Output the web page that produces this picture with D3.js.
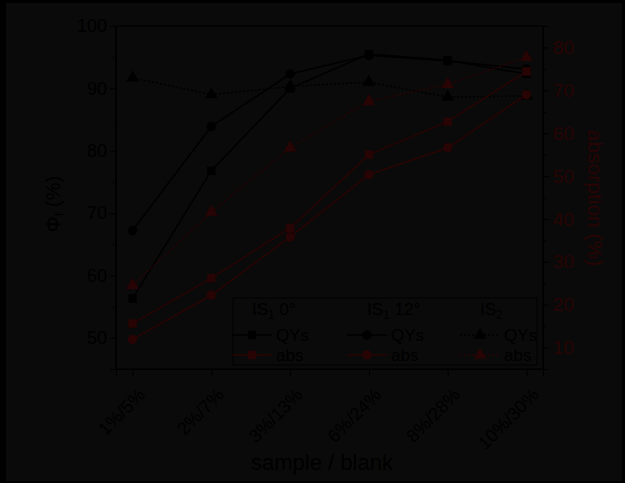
<!DOCTYPE html>
<html><head><meta charset="utf-8">
<script src="https://cdn.jsdelivr.net/npm/d3@7"></script>
<style>html,body{margin:0;padding:0;background:#000;}svg{display:block;}</style>
</head><body>
<svg id="c" width="625" height="483"></svg>
<script>
const categories = ["1%/5%","2%/7%","3%/13%","6%/24%","8%/28%","10%/30%"];
const qyIS1_0  = [56.3, 76.8, 90.0, 95.5, 94.5, 92.3];
const qyIS1_12 = [67.2, 83.9, 92.3, 95.3, 94.4, 93.1];
const qyIS2    = [91.7, 89.0, 90.3, 91.0, 88.6, 88.8];
const absIS1_0  = [15.6, 26.2, 37.9, 55.0, 62.7, 74.4];
const absIS1_12 = [11.9, 22.2, 35.8, 50.3, 56.6, 69.0];
const absIS2    = [24.5, 41.6, 56.6, 67.4, 71.4, 77.7];
const leftTicks = [50, 60, 70, 80, 90, 100];
const rightTicks = [10, 20, 30, 40, 50, 60, 70, 80];

const BG = "#0a0a0a", BK = "#000000", RD = "#280404";
const svg = d3.select("#c");
svg.append("rect").attr("x",6).attr("y",3).attr("width",616).attr("height",478).attr("fill",BG);

const L = 116, R = 543, T = 26, B = 369;
const x = d3.scalePoint().domain(categories).range([L, R]).padding(0.21);
const yL = d3.scaleLinear().domain([45, 100]).range([B, T]);
const yR = d3.scaleLinear().domain([5, 85]).range([B, T]);

const font = "Liberation Sans, Arial, sans-serif";

// frame
svg.append("rect").attr("x",L).attr("y",T).attr("width",R-L).attr("height",B-T)
  .attr("fill","none").attr("stroke",BK).attr("stroke-width",1.2);

// left axis
const gl = svg.append("g").attr("transform",`translate(${L},0)`)
  .call(d3.axisLeft(yL).tickValues(leftTicks).tickSize(6).tickPadding(3).tickFormat(d3.format("d")));
gl.select(".domain").attr("stroke",BK);
gl.selectAll(".tick line").attr("stroke",BK);
gl.selectAll(".tick text").attr("fill",BK).attr("font-family",font).attr("font-size",18);
svg.append("g").attr("transform",`translate(${L},0)`)
  .call(d3.axisLeft(yL).tickValues(d3.range(45,100,10)).tickSize(3).tickFormat(""))
  .call(g=>{g.select(".domain").remove();g.selectAll("line").attr("stroke",BK);});

// right axis
const gr = svg.append("g").attr("transform",`translate(${R},0)`)
  .call(d3.axisRight(yR).tickValues(rightTicks).tickSize(6).tickPadding(4).tickFormat(d3.format("d")));
gr.select(".domain").attr("stroke",BK);
gr.selectAll(".tick line").attr("stroke",BK);
gr.selectAll(".tick text").attr("fill",RD).attr("font-family",font).attr("font-size",19);
svg.append("g").attr("transform",`translate(${R},0)`)
  .call(d3.axisRight(yR).tickValues(d3.range(15,85,10)).tickSize(3).tickFormat(""))
  .call(g=>{g.select(".domain").remove();g.selectAll("line").attr("stroke",BK);});

// bottom axis
const gb = svg.append("g").attr("transform",`translate(0,${B})`)
  .call(d3.axisBottom(x).tickSize(7).tickFormat(""));
gb.select(".domain").attr("stroke",BK);
gb.selectAll(".tick line").attr("stroke",BK);
gb.selectAll(".tick").append("text")
  .attr("transform","translate(13,27) rotate(-45)")
  .attr("text-anchor","end").attr("fill",BK).attr("font-family",font).attr("font-size",18)
  .text(d=>d);

// axis titles
svg.append("text").attr("x",322).attr("y",470).attr("text-anchor","middle")
  .attr("font-family",font).attr("font-size",22).attr("fill",BK).text("sample / blank");
const lt = svg.append("text").attr("transform","translate(60,204) rotate(-90)").attr("text-anchor","middle")
  .attr("font-family",font).attr("font-size",20).attr("fill",BK);
lt.append("tspan").text("Φ");
lt.append("tspan").attr("font-size",13).attr("dy",4).text("f");
lt.append("tspan").attr("dy",-4).text(" (%)");
svg.append("text").attr("transform","translate(588,198) rotate(90)").attr("text-anchor","middle")
  .attr("font-family",font).attr("font-size",21).attr("fill",RD).text("absorption (%)");

// series
const series = [
  {vals: qyIS1_0, y: yL, color: BK, shape: d3.symbolSquare, dash: null},
  {vals: qyIS1_12, y: yL, color: BK, shape: d3.symbolCircle, dash: null},
  {vals: qyIS2, y: yL, color: BK, shape: d3.symbolTriangle, dash: "2,2"},
  {vals: absIS1_0, y: yR, color: RD, shape: d3.symbolSquare, dash: null},
  {vals: absIS1_12, y: yR, color: RD, shape: d3.symbolCircle, dash: null},
  {vals: absIS2, y: yR, color: RD, shape: d3.symbolTriangle, dash: "2,2"}
];
series.forEach(s=>{
  const line = d3.line().x((d,i)=>x(categories[i])).y(d=>s.y(d));
  svg.append("path").datum(s.vals).attr("d",line).attr("fill","none")
    .attr("stroke",s.color).attr("stroke-width",1.5).attr("stroke-dasharray",s.dash);
  svg.append("g").selectAll("path").data(s.vals).join("path")
    .attr("transform",(d,i)=>`translate(${x(categories[i])},${s.y(d)})`)
    .attr("d",d3.symbol().type(s.shape).size(70)).attr("fill",s.color);
});

// legend
const lg = svg.append("g");
lg.append("rect").attr("x",233).attr("y",298).attr("width",304).attr("height",67)
  .attr("fill","none").attr("stroke",BK).attr("stroke-width",1);
const cols = [
  {x0:232, title:["IS","1"," 0°"], qy:series[0], ab:series[3]},
  {x0:347, title:["IS","1"," 12°"], qy:series[1], ab:series[4]},
  {x0:460, title:["IS","2",""], qy:series[2], ab:series[5]}
];
cols.forEach(c=>{
  const t = lg.append("text").attr("x",c.x0+20).attr("y",315).attr("font-family",font)
    .attr("font-size",17).attr("fill",BK);
  t.append("tspan").text(c.title[0]);
  t.append("tspan").attr("font-size",12).attr("dy",4).text(c.title[1]);
  t.append("tspan").attr("dy",-4).text(c.title[2]);
  [[c.qy,"QYs",335],[c.ab,"abs",355]].forEach(([s,lab,yy])=>{
    lg.append("line").attr("x1",c.x0).attr("x2",c.x0+40).attr("y1",yy).attr("y2",yy)
      .attr("stroke",s.color).attr("stroke-width",1.5).attr("stroke-dasharray",s.dash);
    lg.append("path").attr("transform",`translate(${c.x0+20},${yy})`)
      .attr("d",d3.symbol().type(s.shape).size(70)).attr("fill",s.color);
    lg.append("text").attr("x",c.x0+44).attr("y",yy+6).attr("font-family",font)
      .attr("font-size",17).attr("fill",BK).text(lab);
  });
});
</script>
</body></html>
